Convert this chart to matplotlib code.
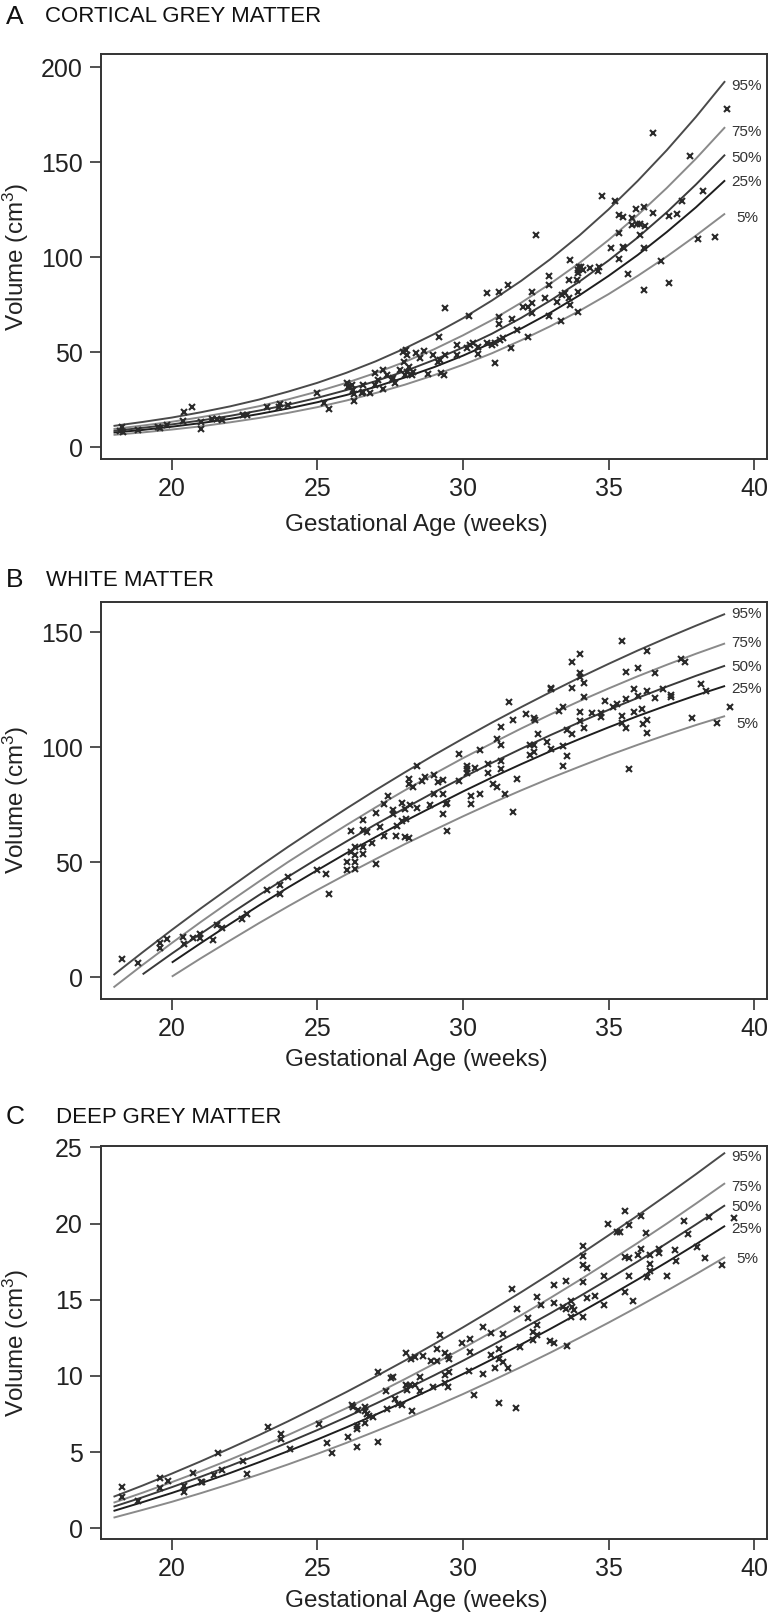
import matplotlib
matplotlib.use("Agg")
import matplotlib.pyplot as plt
from matplotlib import font_manager as fm

# ---------------- data ----------------
PCT_LABELS = ["95%", "75%", "50%", "25%", "5%"]

# A - cortical grey matter (cm3), centile curves by week 18..39
A_WEEKS = list(range(18, 40))
A_P95 = [11.2, 13.3, 15.6, 18.4, 21.5, 25.1, 29.3, 33.9, 39.2, 45.2, 52.0,
         59.5, 67.9, 77.3, 87.6, 99.0, 111.5, 125.2, 140.2, 156.4, 173.9, 192.7]
A_P75 = [9.6, 11.4, 13.4, 15.8, 18.5, 21.6, 25.2, 29.3, 33.9, 39.1, 44.9,
         51.5, 58.9, 67.0, 76.1, 86.1, 97.0, 109.1, 122.2, 136.5, 151.9, 168.5]
A_P50 = [8.6, 10.2, 12.0, 14.1, 16.5, 19.3, 22.4, 26.0, 30.1, 34.8, 40.0,
         45.9, 52.5, 59.8, 68.1, 77.2, 87.2, 98.3, 110.4, 123.7, 138.3, 154.0]
A_P25 = [7.7, 9.1, 10.8, 12.7, 14.9, 17.5, 20.4, 23.7, 27.5, 31.8, 36.7,
         42.1, 48.2, 55.0, 62.5, 70.8, 80.0, 90.2, 101.2, 113.3, 126.3, 140.5]
A_P5 = [6.5, 7.8, 9.3, 11.0, 13.1, 15.4, 18.1, 21.1, 24.6, 28.5, 32.9,
        37.9, 43.4, 49.5, 56.3, 63.7, 71.8, 80.6, 90.2, 100.4, 111.4, 123.0]
A_LABEL_Y = [190.3, 166.1, 152.1, 139.8, 120.5]

A_GA = [18.28, 18.23, 18.34, 18.85, 19.54, 19.60, 19.83, 20.42, 20.71, 20.40,
        20.99, 20.99, 21.37, 21.55, 21.72, 22.46, 22.57, 23.26, 23.68, 23.72,
        23.98, 24.98, 25.24, 25.40, 26.01, 26.06, 26.18, 26.24, 26.26, 26.26,
        26.56, 26.58, 26.52, 26.81, 26.98, 27.09, 26.98, 27.27, 27.24, 27.38,
        27.55, 27.61, 27.67, 27.84, 27.95, 28.04, 28.09, 27.98, 28.00, 28.07,
        28.16, 28.24, 28.30, 28.39, 28.53, 28.66, 28.81, 28.96, 29.15, 29.19,
        29.38, 29.21, 29.38, 29.23, 29.35, 29.78, 29.81, 30.13, 30.24, 30.36,
        30.22, 30.53, 30.53, 30.81, 31.24, 31.53, 30.81, 30.98, 31.10, 31.27,
        31.39, 31.10, 31.24, 31.24, 31.67, 31.65, 31.84, 32.24, 32.07, 32.24,
        32.36, 32.38, 32.36, 32.51, 32.82, 32.95, 32.95, 32.95, 33.24, 33.39,
        33.52, 33.64, 33.36, 33.67, 33.64, 33.67, 33.96, 33.94, 34.00, 34.07,
        34.13, 33.96, 33.92, 33.96, 34.36, 34.67, 34.65, 34.79, 35.22, 35.37,
        35.50, 35.37, 35.08, 35.50, 35.53, 35.37, 35.65, 35.79, 35.94, 36.21,
        35.81, 35.96, 36.08, 36.25, 36.08, 36.23, 36.21, 36.51, 36.51, 37.08,
        37.36, 37.08, 37.51, 37.79, 38.08, 38.23, 38.65, 39.07, 36.80]
A_VOL = [10.8, 8.6, 8.2, 8.9, 10.8, 10.0, 11.7, 18.6, 21.4, 14.0,
         13.1, 9.8, 14.7, 14.7, 14.5, 17.0, 17.0, 21.4, 21.4, 22.6,
         22.3, 28.4, 23.5, 20.2, 33.7, 31.9, 32.8, 30.2, 28.0, 24.4,
         32.8, 29.3, 28.4, 28.4, 38.9, 35.4, 32.8, 30.5, 40.7, 38.0,
         35.4, 36.3, 33.7, 40.7, 50.3, 51.2, 48.6, 45.0, 38.0, 39.8,
         42.4, 38.0, 39.8, 49.8, 46.8, 50.8, 38.6, 48.6, 45.0, 57.9,
         73.1, 46.0, 48.6, 38.9, 38.0, 53.8, 48.6, 52.1, 53.8, 54.7,
         69.1, 53.0, 49.1, 81.0, 81.9, 85.4, 54.7, 53.8, 54.7, 56.5,
         57.3, 44.2, 68.7, 64.9, 67.3, 52.1, 61.7, 58.2, 74.0, 74.0,
         75.8, 70.5, 81.9, 111.7, 78.4, 90.2, 85.4, 69.1, 76.6, 80.1,
         81.0, 78.4, 66.6, 98.6, 88.0, 74.9, 81.9, 93.3, 95.1, 95.1,
         93.3, 91.6, 88.0, 71.4, 94.2, 95.1, 92.9, 132.3, 129.8, 122.3,
         121.0, 113.0, 105.1, 105.6, 105.1, 98.9, 91.2, 120.8, 125.2, 126.6,
         117.0, 117.5, 117.5, 116.6, 111.7, 105.1, 82.8, 165.6, 123.1, 121.7,
         122.8, 86.6, 129.8, 153.5, 109.6, 135.1, 110.9, 178.0, 98.0]

# B - white matter (cm3); the lower curves start later
B_W95 = list(range(18, 40))
B_P95 = [1.0, 10.9, 20.6, 30.0, 39.1, 48.1, 56.8, 65.2, 73.4, 81.4, 89.1,
         96.6, 103.8, 110.8, 117.5, 124.0, 130.3, 136.3, 142.1, 147.6, 152.9, 158.0]
B_W75 = list(range(18, 40))
B_P75 = [-4.4, 5.4, 14.9, 24.1, 33.0, 41.7, 50.2, 58.3, 66.2, 73.9, 81.3,
         88.4, 95.3, 101.8, 108.2, 114.3, 120.1, 125.6, 130.9, 135.9, 140.7, 145.2]
B_W50 = list(range(19, 40))
B_P50 = [1.3, 10.3, 19.0, 27.5, 35.8, 43.8, 51.6, 59.1, 66.5, 73.5, 80.4,
         86.9, 93.3, 99.4, 105.3, 110.9, 116.3, 121.5, 126.4, 131.1, 135.5]
B_W25 = list(range(20, 40))
B_P25 = [6.4, 14.9, 23.2, 31.3, 39.1, 46.6, 54.0, 61.0, 67.9, 74.4, 80.8,
         86.9, 92.7, 98.3, 103.6, 108.7, 113.6, 118.2, 122.6, 126.7]
B_W5 = list(range(20, 40))
B_P5 = [0.3, 8.3, 16.0, 23.6, 30.9, 38.0, 44.8, 51.4, 57.9, 64.0, 70.0,
        75.8, 81.3, 86.6, 91.6, 96.5, 101.1, 105.5, 109.7, 113.6]
B_LABEL_Y = [158.0, 145.2, 135.0, 125.2, 110.1]

B_GA = [18.28, 18.85, 19.58, 19.58, 19.83, 20.40, 20.42, 20.72, 20.97, 20.97,
        21.43, 21.57, 21.74, 22.40, 22.57, 23.26, 23.72, 23.72, 23.98, 25.00,
        25.29, 25.41, 26.01, 26.01, 26.14, 26.14, 26.29, 26.29, 26.29, 26.29,
        26.58, 26.58, 26.58, 26.58, 26.69, 26.87, 27.01, 27.01, 27.15, 27.29,
        27.29, 27.44, 27.58, 27.61, 27.70, 27.72, 27.90, 27.90, 28.01, 28.04,
        28.01, 28.16, 28.16, 28.16, 28.30, 28.18, 28.43, 28.58, 28.70, 28.87,
        29.02, 29.02, 28.41, 29.15, 29.30, 29.30, 29.44, 29.30, 29.42, 29.44,
        29.86, 29.86, 30.15, 30.15, 30.41, 30.15, 30.28, 30.28, 30.58, 30.58,
        30.87, 30.87, 31.02, 31.16, 31.16, 31.30, 31.30, 31.30, 31.30, 31.44,
        31.59, 31.73, 31.87, 31.73, 32.16, 32.44, 32.46, 32.30, 32.30, 32.44,
        32.44, 32.59, 32.87, 33.01, 33.02, 33.01, 33.31, 33.45, 33.45, 33.45,
        33.58, 33.58, 33.73, 33.73, 33.73, 34.02, 34.02, 34.02, 34.02, 34.02,
        34.15, 34.15, 34.15, 34.44, 34.73, 34.73, 34.88, 35.16, 35.30, 35.45,
        35.45, 35.45, 35.60, 35.60, 35.60, 35.71, 35.87, 35.88, 36.02, 36.02,
        36.16, 36.17, 36.31, 36.31, 36.31, 36.31, 36.59, 36.59, 36.88, 37.16,
        37.16, 37.47, 37.62, 37.88, 38.17, 38.33, 38.74, 39.17]
B_VOL = [8.0, 6.1, 14.8, 12.9, 16.5, 17.7, 14.5, 17.0, 18.8, 17.0,
         16.2, 22.7, 21.3, 25.2, 27.5, 37.9, 40.0, 36.2, 43.5, 46.7,
         44.8, 36.2, 50.3, 46.7, 63.6, 54.3, 56.8, 53.2, 50.3, 46.9,
         68.4, 64.0, 56.5, 53.6, 63.3, 58.2, 71.6, 49.3, 65.5, 75.2,
         61.4, 78.8, 72.7, 70.9, 61.4, 65.8, 75.6, 68.0, 73.0, 68.7,
         60.9, 60.5, 86.1, 84.0, 82.6, 74.9, 73.5, 85.5, 87.2, 74.9,
         88.0, 79.6, 91.9, 85.0, 85.8, 79.7, 75.9, 71.0, 75.3, 63.7,
         97.1, 85.3, 92.0, 90.6, 91.1, 88.9, 79.0, 75.3, 79.7, 98.8,
         92.6, 88.9, 83.9, 82.6, 103.5, 108.7, 101.0, 94.0, 90.6, 79.7,
         119.8, 111.9, 86.1, 71.7, 114.4, 112.6, 112.1, 101.0, 96.6, 101.0,
         98.1, 105.8, 102.4, 125.3, 125.6, 99.1, 115.9, 117.6, 100.7, 92.0,
         107.5, 96.4, 137.2, 125.9, 105.6, 140.8, 132.2, 130.7, 115.5, 111.6,
         128.1, 122.0, 108.5, 114.8, 114.8, 113.3, 120.1, 117.6, 118.8, 146.4,
         113.7, 110.7, 108.2, 132.6, 121.0, 90.4, 125.2, 115.5, 134.3, 122.3,
         116.6, 110.1, 142.0, 124.6, 112.1, 106.4, 132.4, 121.3, 125.2, 122.7,
         122.0, 138.2, 137.2, 112.6, 127.5, 124.5, 110.7, 117.4]

# C - deep grey matter (cm3), week 18..39
C_WEEKS = list(range(18, 40))
C_P95 = [2.07, 2.81, 3.59, 4.40, 5.25, 6.12, 7.03, 7.98, 8.95, 9.96, 11.0,
         12.08, 13.19, 14.33, 15.5, 16.71, 17.95, 19.23, 20.53, 21.87, 23.24, 24.65]
C_P75 = [1.68, 2.34, 3.03, 3.75, 4.51, 5.31, 6.13, 7.0, 7.89, 8.82, 9.79,
         10.79, 11.82, 12.89, 13.99, 15.12, 16.29, 17.5, 18.73, 20.0, 21.31, 22.65]
C_P50 = [1.42, 2.04, 2.70, 3.39, 4.10, 4.85, 5.64, 6.45, 7.30, 8.18, 9.09,
         10.03, 11.0, 12.01, 13.05, 14.11, 15.22, 16.35, 17.51, 18.71, 19.94, 21.2]
C_P25 = [1.14, 1.72, 2.32, 2.96, 3.63, 4.34, 5.07, 5.83, 6.63, 7.46, 8.32,
         9.21, 10.13, 11.09, 12.07, 13.09, 14.14, 15.22, 16.33, 17.47, 18.64, 19.85]
C_P5 = [0.70, 1.21, 1.74, 2.31, 2.91, 3.54, 4.20, 4.89, 5.61, 6.37, 7.15,
        7.97, 8.81, 9.69, 10.59, 11.53, 12.5, 13.5, 14.53, 15.59, 16.68, 17.8]
C_LABEL_Y = [24.39, 22.42, 21.06, 19.66, 17.65]

C_GA = [18.28, 18.28, 18.85, 19.58, 19.58, 19.86, 20.42, 20.43, 20.74, 21.01,
        21.05, 21.46, 21.60, 21.74, 22.44, 22.60, 23.32, 23.75, 23.75, 24.06,
        25.06, 25.34, 25.49, 26.06, 26.20, 26.24, 26.35, 26.35, 26.35, 26.41,
        26.64, 26.64, 26.64, 26.69, 26.79, 26.92, 27.09, 27.09, 27.36, 27.38,
        27.52, 27.61, 27.67, 27.78, 27.90, 28.04, 28.20, 28.35, 28.04, 28.09,
        28.18, 28.35, 28.24, 28.52, 28.62, 28.90, 28.96, 29.10, 29.12, 29.21,
        28.52, 29.38, 29.50, 29.53, 29.38, 29.38, 29.50, 29.53, 29.95, 30.24,
        30.24, 30.22, 30.38, 30.68, 30.68, 30.95, 30.95, 31.10, 31.24, 31.24,
        31.38, 31.38, 31.25, 31.53, 31.68, 31.82, 31.84, 31.96, 32.24, 32.39,
        32.39, 32.53, 32.55, 32.53, 32.68, 32.99, 33.12, 33.12, 33.12, 33.42,
        33.54, 33.54, 33.56, 33.70, 33.73, 33.82, 33.70, 34.13, 34.13, 34.13,
        34.13, 34.13, 34.27, 34.27, 34.55, 34.85, 34.85, 34.99, 35.28, 35.39,
        35.56, 35.56, 35.71, 35.56, 35.71, 35.71, 35.85, 36.00, 36.13, 36.13,
        36.27, 36.31, 36.42, 36.42, 36.42, 36.73, 36.73, 36.99, 37.28, 37.30,
        37.59, 37.73, 38.02, 38.31, 38.46, 38.88, 39.31]
C_VOL = [2.69, 2.03, 1.81, 3.28, 2.62, 3.13, 2.78, 2.40, 3.65, 3.02,
         3.02, 3.50, 4.96, 3.83, 4.44, 3.54, 6.67, 6.17, 5.88, 5.23,
         6.84, 5.57, 4.96, 6.01, 8.09, 7.98, 6.71, 6.52, 5.31, 7.76,
         7.94, 7.70, 6.89, 7.50, 7.37, 7.33, 10.28, 5.68, 9.03, 7.81,
         9.84, 9.91, 8.51, 8.16, 8.09, 11.48, 11.09, 11.26, 9.40, 9.08,
         9.40, 9.40, 7.70, 9.03, 11.30, 10.98, 9.29, 11.74, 11.00, 12.68,
         9.95, 11.48, 11.31, 11.09, 10.06, 9.56, 9.29, 10.28, 12.18, 12.40,
         11.59, 10.34, 8.75, 13.19, 10.13, 12.79, 11.39, 10.54, 11.74, 11.09,
         12.73, 10.89, 8.20, 10.54, 15.68, 7.92, 14.39, 11.87, 13.82, 12.90,
         12.36, 13.34, 12.68, 15.16, 14.65, 12.31, 12.18, 15.96, 14.76, 14.54,
         14.39, 16.23, 11.98, 14.94, 14.50, 14.32, 13.89, 13.84, 18.55, 17.87,
         17.28, 16.14, 17.06, 15.13, 15.27, 16.55, 14.65, 19.97, 19.46, 19.46,
         20.82, 17.82, 17.71, 15.53, 19.90, 16.56, 14.94, 17.93, 20.51, 18.31,
         19.40, 16.47, 17.93, 17.32, 16.90, 18.31, 18.04, 16.56, 18.26, 17.54,
         20.16, 19.31, 18.48, 17.71, 20.40, 17.26, 20.34]

# ---------------- styling ----------------
W, H, DPI = 774, 1617, 100
_names = {f.name for f in fm.fontManager.ttflist}
TICK_FONT = "Liberation Sans Narrow" if "Liberation Sans Narrow" in _names else "Liberation Sans"
TICK_SIZE = 20 if TICK_FONT.endswith("Narrow") else 18
TEXT_FONT = ["Liberation Sans", "DejaVu Sans"]

plt.rcParams["font.family"] = TEXT_FONT
plt.rcParams["mathtext.default"] = "regular"

# line colours for 95 / 75 / 50 / 25 / 5
CURVE_COLORS = ["#4a4a4a", "#8a8a8a", "#3a3a3a", "#1e1e1e", "#8a8a8a"]
FRAME = "#333333"
XLIM = (17.57, 40.44)


def px_rect(left, top, right, bottom):
    return [left / W, 1 - bottom / H, (right - left) / W, (bottom - top) / H]


def draw_panel(fig, rect, curves, ga, vol, label_y, ylim, yticks,
               letter, title, title_x, title_y, xlabel_y):
    ax = fig.add_axes(rect)
    for (wk, vals), col in zip(curves, CURVE_COLORS):
        ax.plot(wk, vals, color=col, lw=1.4, solid_capstyle="butt")
    ax.plot(ga, vol, "x", ms=4.3, mew=1.5, color="#2a2a2a", ls="none")
    for lab, yv in zip(PCT_LABELS, label_y):
        ax.text(39.75, yv, lab, ha="center", va="center", fontsize=11,
                color="#333333")

    ax.set_xlim(*XLIM)
    ax.set_ylim(*ylim)
    ax.set_xticks([20, 25, 30, 35, 40])
    ax.set_yticks(yticks)
    ax.tick_params(direction="out", length=8, width=1.2, color=FRAME,
                   labelsize=TICK_SIZE, pad=5, labelcolor="#222222")
    for lab in ax.get_xticklabels() + ax.get_yticklabels():
        lab.set_fontfamily(TICK_FONT)
    for sp in ax.spines.values():
        sp.set_linewidth(1.4)
        sp.set_color(FRAME)

    fig.text(6 / W, 1 - title_y / H, letter, fontsize=19, ha="left",
             va="center", color="#111111")
    fig.text(title_x / W, 1 - title_y / H, title, fontsize=16, ha="left",
             va="center", color="#111111")
    mid = rect[1] + rect[3] / 2
    fig.text(16 / W, mid, "Volume (cm$^3$)", rotation=90, fontsize=17.5,
             ha="center", va="center", color="#222222")
    fig.text(416 / W, 1 - xlabel_y / H, "Gestational Age (weeks)",
             fontsize=17.5, ha="center", va="center", color="#222222")
    return ax


fig = plt.figure(figsize=(W / DPI, H / DPI), dpi=DPI)

draw_panel(fig, px_rect(101, 54, 767, 459),
           [(A_WEEKS, A_P95), (A_WEEKS, A_P75), (A_WEEKS, A_P50),
            (A_WEEKS, A_P25), (A_WEEKS, A_P5)],
           A_GA, A_VOL, A_LABEL_Y, (-6.2, 207.0), [0, 50, 100, 150, 200],
           "A", "CORTICAL GREY MATTER", 45, 17, 525)

draw_panel(fig, px_rect(101, 602, 767, 998.7),
           [(B_W95, B_P95), (B_W75, B_P75), (B_W50, B_P50),
            (B_W25, B_P25), (B_W5, B_P5)],
           B_GA, B_VOL, B_LABEL_Y, (-9.3, 163.2), [0, 50, 100, 150],
           "B", "WHITE MATTER", 46, 580, 1060)

draw_panel(fig, px_rect(101, 1146, 767, 1539),
           [(C_WEEKS, C_P95), (C_WEEKS, C_P75), (C_WEEKS, C_P50),
            (C_WEEKS, C_P25), (C_WEEKS, C_P5)],
           C_GA, C_VOL, C_LABEL_Y, (-0.7, 25.09), [0, 5, 10, 15, 20, 25],
           "C", "DEEP GREY MATTER", 56, 1117, 1601)

fig.savefig("out.png", dpi=DPI)
